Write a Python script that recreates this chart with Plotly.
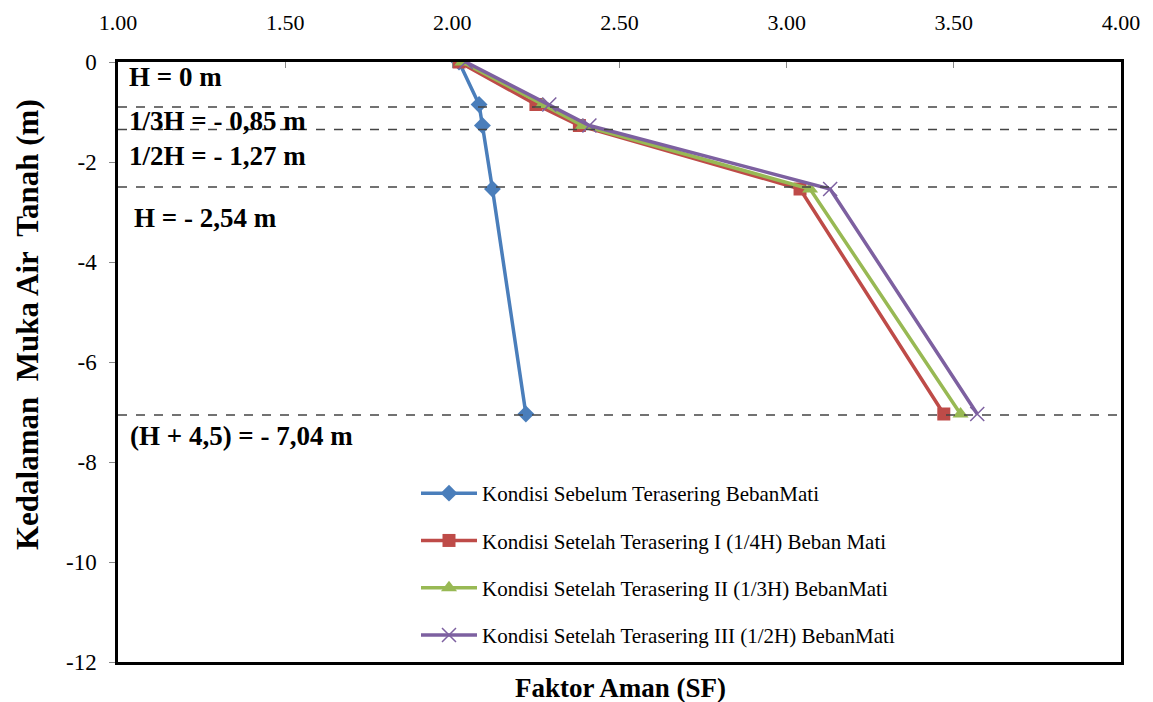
import plotly.graph_objects as go

# ---- data ----
depth = [0, -0.85, -1.27, -2.54, -7.04]
sf_sebelum = [2.02, 2.08, 2.09, 2.12, 2.22]
sf_teras_1 = [2.02, 2.25, 2.38, 3.04, 3.47]
sf_teras_2 = [2.03, 2.27, 2.39, 3.07, 3.52]
sf_teras_3 = [2.04, 2.29, 2.41, 3.13, 3.57]

series_names = [
    "Kondisi Sebelum Terasering BebanMati",
    "Kondisi Setelah Terasering I (1/4H) Beban Mati",
    "Kondisi Setelah Terasering II (1/3H) BebanMati",
    "Kondisi Setelah Terasering III (1/2H) BebanMati",
]
y_tick_vals = [0, -2, -4, -6, -8, -10, -12]
y_tick_text = ["0", "-2", "-4", "-6", "-8", "-10", "-12"]
ref_lines = [-0.9, -1.35, -2.5, -7.06]
level_labels = ["H = 0 m", "1/3H = - 0,85 m", "1/2H = - 1,27 m", "H = - 2,54 m", "(H + 4,5) = - 7,04 m"]
level_label_pos = [(127, 77), (127, 121), (127, 156), (132, 218), (128, 436)]

# page offset (body margin) and plot area in screen pixels
OFF = 8
W, H = 1153 - OFF, 702 - OFF
L, R, T, B = 118, 1121, 62, 662

def px_to_paper(px, py):
    return (px - L) / (R - L), (B - py) / (B - T)

FONT = "Liberation Serif"

fig = go.Figure()

styles = [
    dict(color="#4A7EBB", symbol="diamond", size=13, lw=3.5),
    dict(color="#BE4B48", symbol="square", size=13, lw=3.5),
    dict(color="#98B954", symbol="triangle-up", size=14, lw=3.5),
    dict(color="#7D60A0", symbol="x-thin", size=14, lw=3.5),
]
for i, (name, xs, st) in enumerate(zip(series_names, [sf_sebelum, sf_teras_1, sf_teras_2, sf_teras_3], styles)):
    mk = dict(symbol=st["symbol"], size=st["size"], color=st["color"])
    if st["symbol"] == "x-thin":
        mk["line"] = dict(color=st["color"], width=1.5)
    fig.add_trace(go.Scatter(
        x=xs, y=depth, mode="lines+markers", name=name,
        line=dict(color=st["color"], width=st["lw"]),
        marker=mk, legendgroup=f"g{i}",
    ))

# reference dashed lines
for yv in ref_lines:
    fig.add_shape(type="line", xref="paper", yref="y", x0=0, x1=1.0, y0=yv, y1=yv,
                  line=dict(color="#444444", width=1.6, dash="dash"), layer="above")

for txt, (px, py) in zip(level_labels, level_label_pos):
    xp, yp = px_to_paper(px, py)
    fig.add_annotation(text=f"<b>{txt}</b>", xref="paper", yref="paper", x=xp, y=yp,
                       xanchor="left", yanchor="middle", showarrow=False,
                       font=dict(family=FONT, size=27, color="black"))

# axis titles
xp, yp = px_to_paper(620, 688)
fig.add_annotation(text="<b>Faktor Aman (SF)</b>", xref="paper", yref="paper", x=xp, y=yp,
                   xanchor="center", yanchor="middle", showarrow=False,
                   font=dict(family=FONT, size=27, color="black"))
xp, yp = px_to_paper(27, 325)
fig.add_annotation(text="<b>Kedalaman  Muka Air  Tanah (m)</b>", xref="paper", yref="paper", x=xp, y=yp,
                   xanchor="center", yanchor="middle", showarrow=False, textangle=-90,
                   font=dict(family=FONT, size=31, color="black"))

lx, ly = px_to_paper(416, 473)
fig.update_layout(
    width=W, height=H,
    margin=dict(l=L - OFF, r=W - (R - OFF), t=T - OFF, b=H - (B - OFF), autoexpand=False),
    paper_bgcolor="white", plot_bgcolor="white",
    showlegend=True,
    legend=dict(x=lx, y=ly, xanchor="left", yanchor="top", bgcolor="rgba(0,0,0,0)",
                font=dict(family=FONT, size=21, color="black"),
                traceorder="grouped", tracegroupgap=17, itemwidth=56),
    xaxis=dict(range=[1, 4], dtick=0.5, tickformat=".2f", side="top",
               showgrid=False, zeroline=False, showline=True, linecolor="black",
               linewidth=2.5, mirror=True, ticks="inside", ticklen=6, tickcolor="#888",
               ticklabelstandoff=20,
               tickfont=dict(family=FONT, size=22, color="black")),
    yaxis=dict(range=[-12, 0], tickvals=y_tick_vals, ticktext=y_tick_text,
               showgrid=False, zeroline=False,
               showline=True, linecolor="black", linewidth=2.5, mirror=True,
               ticks="outside", ticklen=6, tickcolor="#888", ticklabelstandoff=8,
               tickfont=dict(family=FONT, size=23, color="black")),
)

fig.write_html("out.html")
